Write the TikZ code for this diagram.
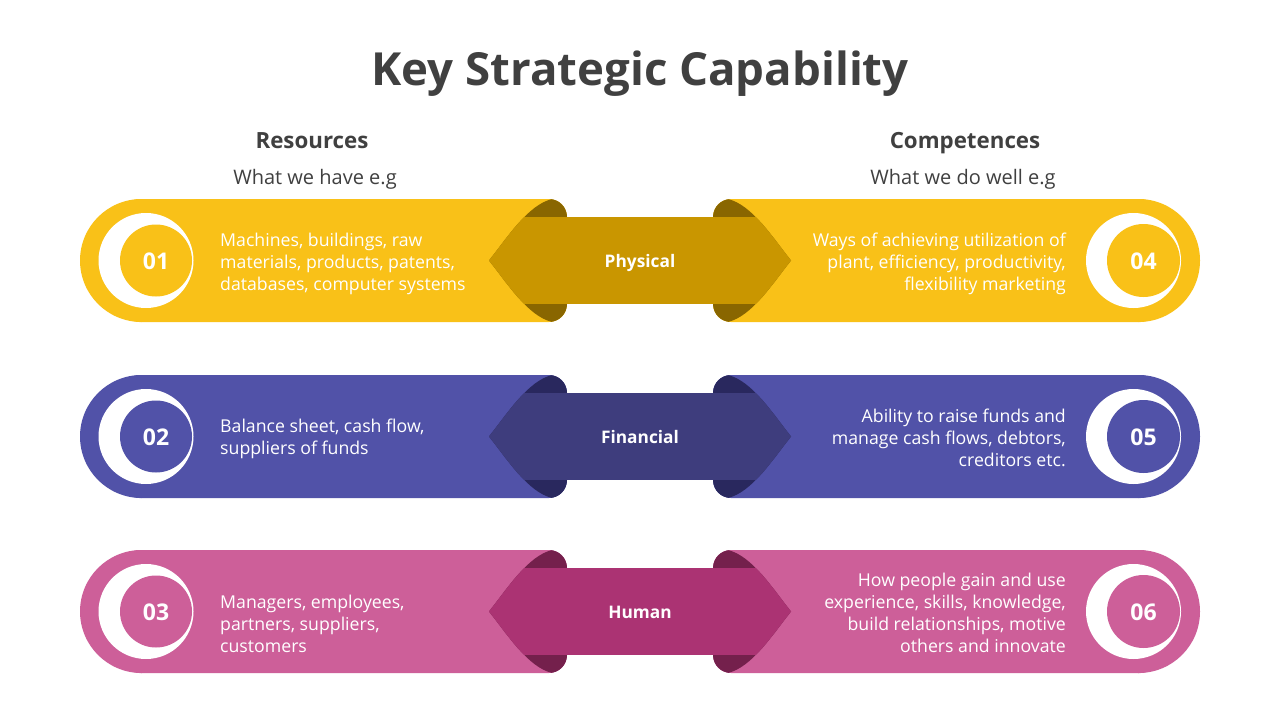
\documentclass[tikz,border=0pt]{standalone}
\usepackage{fontspec}
\setmainfont{Open Sans}
\definecolor{yel}{HTML}{F9C118}
\definecolor{yelM}{HTML}{C99600}
\definecolor{yelD}{HTML}{896600}
\definecolor{pur}{HTML}{5152A8}
\definecolor{purM}{HTML}{3E3D7D}
\definecolor{purD}{HTML}{29285E}
\definecolor{pnk}{HTML}{CD5F99}
\definecolor{pnkM}{HTML}{AB3373}
\definecolor{pnkD}{HTML}{74204C}
\definecolor{ink}{HTML}{404040}
\tikzset{
  numtext/.style={text=white,font=\bfseries\fontsize{23}{26}\selectfont,inner sep=0pt},
  midtext/.style={text=white,font=\bfseries\fontsize{17.3}{20}\selectfont,inner sep=0pt,text height=0.72em,text depth=0pt},
  lefttext/.style={text=white,font=\fontsize{17.7}{22}\selectfont,inner sep=0pt,align=left,anchor=west},
  righttext/.style={text=white,font=\fontsize{17.7}{22}\selectfont,inner sep=0pt,align=right,anchor=east},
  headtext/.style={text=ink,font=\bfseries\fontsize{22.3}{25}\selectfont,inner sep=0pt,anchor=base},
  subtext/.style={text=ink,font=\fontsize{20}{23}\selectfont,inner sep=0pt,anchor=base},
}
% #1 top, #2 colour prefix, #3 label, #4 left number, #5 right number, #6 name
\newcommand{\strow}[6]{%
  \fill[#2] (141.5,#1+61.5) circle[radius=61.5];
  \fill[#2,rounded corners=18pt] (121.5,#1) rectangle (567,#1+123);
  \fill[#2] (1138.5,#1+61.5) circle[radius=61.5];
  \fill[#2,rounded corners=18pt] (713,#1) rectangle (1158.5,#1+123);
  \begin{scope}
    \clip[rounded corners=18pt] (121.5,#1) rectangle (567,#1+123) (713,#1) rectangle (1158.5,#1+123);
    \fill[#2D] (489,#1+61.5) .. controls (508,#1+37.5) and (528,#1+6) .. (552,#1)
      -- (728,#1) .. controls (752,#1+6) and (772,#1+37.5) .. (791,#1+61.5)
      .. controls (772,#1+85.5) and (752,#1+117) .. (728,#1+123)
      -- (552,#1+123) .. controls (528,#1+117) and (508,#1+85.5) .. cycle;
  \end{scope}
  \begin{scope}
    \clip (480,#1+18.5) rectangle (800,#1+104.5);
    \fill[#2M] (489,#1+61.5) .. controls (508,#1+37.5) and (528,#1+6) .. (552,#1)
      -- (728,#1) .. controls (752,#1+6) and (772,#1+37.5) .. (791,#1+61.5)
      .. controls (772,#1+85.5) and (752,#1+117) .. (728,#1+123)
      -- (552,#1+123) .. controls (528,#1+117) and (508,#1+85.5) .. cycle;
  \end{scope}
  \fill[white] (146,#1+61.5) circle[radius=47.5];
  \fill[#2] (156,#1+61.5) circle[radius=36];
  \fill[white] (1133.5,#1+61.5) circle[radius=47.5];
  \fill[#2] (1143.5,#1+61.5) circle[radius=36.5];
  \node[numtext] (#6L) at (156,#1+62) {#4};
  \node[numtext] (#6R) at (1143.5,#1+62) {#5};
  \node[midtext] (#6M) at (640,#1+64.5) {#3};
}
\begin{document}
\begin{tikzpicture}[x=1pt,y=-1pt]
  \useasboundingbox (0,0) rectangle (1280,720);
  \fill[white] (0,0) rectangle (1280,720);
  \node[text=ink,font=\bfseries\fontsize{45.6}{52}\selectfont,inner sep=0pt] (title) at (640,74) {Key Strategic Capability};
  \node[headtext] (res) at (312,148.5) {Resources};
  \node[subtext] (ressub) at (315,184.5) {What we have e.g};
  \node[headtext] (comp) at (965,148.5) {Competences};
  \node[subtext] (compsub) at (963,184.5) {What we do well e.g};

  \strow{199}{yel}{Physical}{01}{04}{phy}
  \strow{375}{pur}{Financial}{02}{05}{fin}
  \strow{550}{pnk}{Human}{03}{06}{hum}

  \node[lefttext] (t1) at (220,264) {Machines, buildings, raw\\materials, products, patents,\\databases, computer systems};
  \node[lefttext] (t2) at (220,438.5) {Balance sheet, cash flow,\\suppliers of funds};
  \node[lefttext] (t3) at (220,624) {Managers, employees,\\partners, suppliers,\\customers};
  \node[righttext] (t4) at (1066,264) {Ways of achieving utilization of\\plant, efficiency, productivity,\\flexibility marketing};
  \node[righttext] (t5) at (1066,438) {Ability to raise funds and\\manage cash flows, debtors,\\creditors etc.};
  \node[righttext] (t6) at (1066,612.5) {How people gain and use\\experience, skills, knowledge,\\build relationships, motive\\others and innovate};
\end{tikzpicture}
\end{document}
